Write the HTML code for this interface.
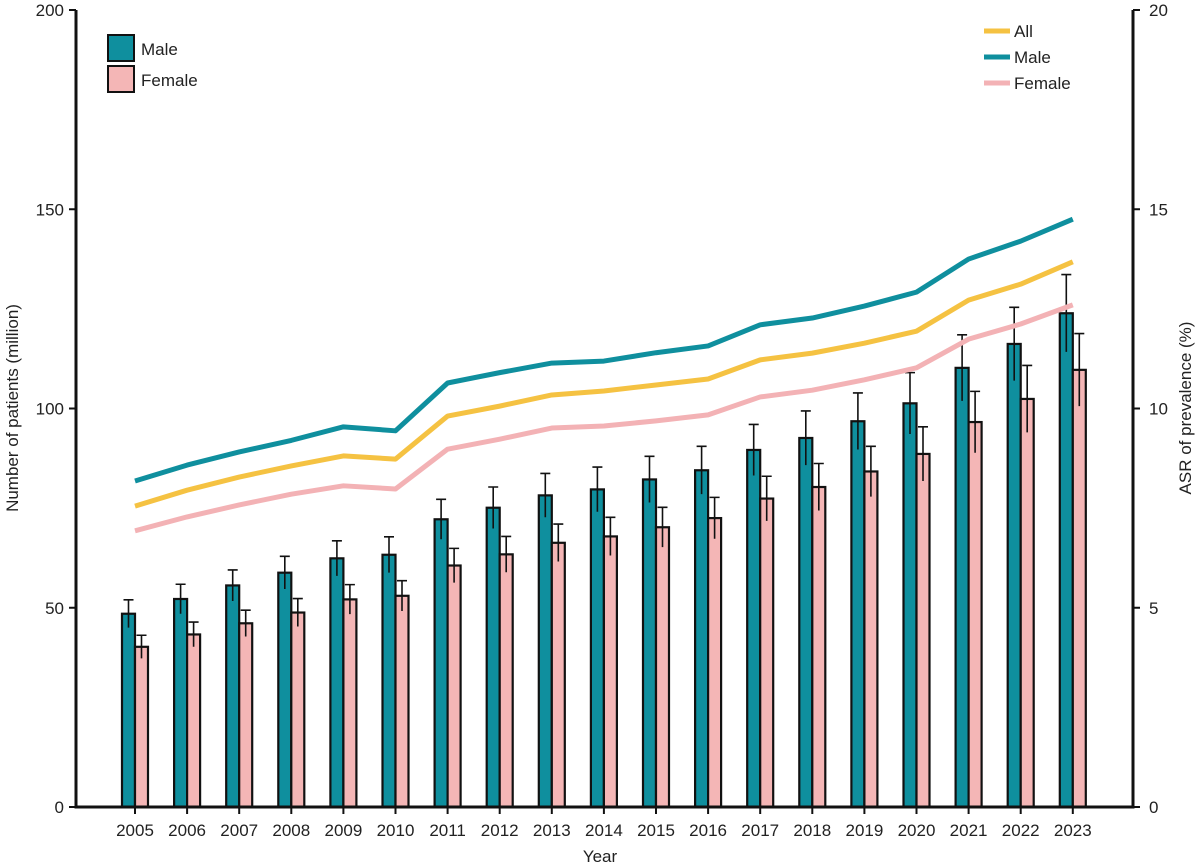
<!DOCTYPE html>
<html><head><meta charset="utf-8"><style>
body{margin:0;background:#fff}
svg{display:block;font-family:"Liberation Sans",sans-serif}
</style></head><body>
<svg id="c" width="1200" height="866" viewBox="0 0 1200 866"></svg>
<script>
const years=[2005,2006,2007,2008,2009,2010,2011,2012,2013,2014,2015,2016,2017,2018,2019,2020,2021,2022,2023];
const maleCount=[48.5,52.2,55.6,58.8,62.4,63.3,72.2,75.1,78.2,79.7,82.2,84.5,89.6,92.6,96.8,101.3,110.2,116.2,123.9];
const maleErr=[3.5,3.7,3.9,4.1,4.4,4.5,5.0,5.2,5.5,5.6,5.8,6.0,6.4,6.8,7.1,7.7,8.3,9.2,9.7];
const femaleCount=[40.2,43.3,46.1,48.8,52.1,53.0,60.6,63.4,66.3,67.9,70.2,72.5,77.4,80.3,84.2,88.6,96.6,102.4,109.7];
const femaleErr=[2.9,3.1,3.3,3.5,3.7,3.8,4.3,4.5,4.7,4.8,5.0,5.2,5.6,5.9,6.3,6.8,7.7,8.4,9.1];
const asrAll=[7.55,7.95,8.28,8.56,8.81,8.73,9.81,10.06,10.34,10.44,10.59,10.74,11.22,11.39,11.64,11.94,12.72,13.12,13.68];
const asrMale=[8.18,8.58,8.91,9.2,9.54,9.44,10.64,10.9,11.14,11.19,11.4,11.57,12.1,12.27,12.57,12.92,13.75,14.2,14.75];
const asrFemale=[6.93,7.28,7.58,7.85,8.06,7.98,8.98,9.23,9.51,9.56,9.69,9.84,10.29,10.46,10.72,11.02,11.74,12.12,12.6];
const leftTicks=[0,50,100,150,200];
const rightTicks=[0,5,10,15,20];

const svg=document.getElementById('c');
const NS='http://www.w3.org/2000/svg';
const X0=76,X1=1133,Y0=807,Y1=10;
const yL=v=>Y0-(v/200)*(Y0-Y1);
const yR=v=>Y0-(v/20)*(Y0-Y1);
const xC=i=>135+i*52.1;
function mk(tag,attrs,parent){const e=document.createElementNS(NS,tag);for(const k in attrs)e.setAttribute(k,attrs[k]);(parent||svg).appendChild(e);return e;}
const TEAL='#0f8f9e',PINK='#f4b6b6',GOLD='#f5c242',LPINK='#f3b2b5';

// bars
const gb=mk('g',{});


years.forEach((yr,i)=>{
  const c=xC(i),w=13;
  const series=[[maleCount[i],maleErr[i],c-w,TEAL,'male'],[femaleCount[i],femaleErr[i],c,PINK,'female']];
  series.forEach(([v,e,x,col,nm])=>{
    const r=mk('rect',{x:x,y:yL(v),width:w,height:Y0-yL(v),fill:col,stroke:'#111','stroke-width':2.2},gb);
    
    
    const m=x+w/2;
    const eb=mk('path',{d:`M${m},${yL(v-e)}V${yL(v+e)}M${m-5},${yL(v+e)}H${m+5}`,stroke:'#111','stroke-width':1.6,fill:'none'},gb);
    
    
  });
});

// lines
[[asrMale,TEAL,'line-asr-male'],[asrAll,GOLD,'line-asr-all'],[asrFemale,LPINK,'line-asr-female']].forEach(([arr,col,nm])=>{
  const p=mk('polyline',{points:arr.map((v,i)=>xC(i)+','+yR(v)).join(' '),fill:'none',stroke:col,'stroke-width':5,'stroke-linejoin':'round'});
  
  
});

// axes
const ax=mk('path',{d:`M${X0},${Y1}V${Y0}H${X1}V${Y1}`,stroke:'#111','stroke-width':3,fill:'none'});


leftTicks.forEach(t=>{
  mk('line',{x1:X0-7,x2:X0,y1:yL(t),y2:yL(t),stroke:'#111','stroke-width':2});
  const tx=mk('text',{x:X0-12,y:yL(t)+6,'text-anchor':'end','font-size':17,fill:'#222'});
  tx.textContent=t;
  
  
});
rightTicks.forEach(t=>{
  mk('line',{x1:X1,x2:X1+7,y1:yR(t),y2:yR(t),stroke:'#111','stroke-width':2});
  const tx=mk('text',{x:X1+16,y:yR(t)+6,'text-anchor':'start','font-size':17,fill:'#222'});
  tx.textContent=t;
  
  
});
years.forEach((yr,i)=>{
  mk('line',{x1:xC(i),x2:xC(i),y1:Y0,y2:Y0+7,stroke:'#111','stroke-width':2});
  const tx=mk('text',{x:xC(i),y:836,'text-anchor':'middle','font-size':17,fill:'#222'});
  tx.textContent=yr;
  
  
});
</script>
<svg width="0" height="0"></svg>
<div style="position:absolute;left:0;top:0;width:1200px;height:866px;pointer-events:none">
<svg width="1200" height="866" style="position:absolute;left:0;top:0;font-family:'Liberation Sans',sans-serif">
  <text x="600" y="862" text-anchor="middle" font-size="17" fill="#222">Year</text>
  <text transform="translate(18,408) rotate(-90)" text-anchor="middle" font-size="17" fill="#222">Number of patients (million)</text>
  <text transform="translate(1191,408) rotate(-90)" text-anchor="middle" font-size="17" fill="#222">ASR of prevalence (%)</text>
  <g>
    <rect x="108" y="35" width="26" height="26" fill="#0f8f9e" stroke="#111" stroke-width="2"/>
    <text x="141" y="55" font-size="17" fill="#222">Male</text>
    <rect x="108" y="66" width="26" height="26" fill="#f4b6b6" stroke="#111" stroke-width="2"/>
    <text x="141" y="86" font-size="17" fill="#222">Female</text>
  </g>
  <g>
    <line x1="984" x2="1010" y1="31" y2="31" stroke="#f5c242" stroke-width="5"/>
    <text x="1014" y="37" font-size="17" fill="#222">All</text>
    <line x1="984" x2="1010" y1="57" y2="57" stroke="#0f8f9e" stroke-width="5"/>
    <text x="1014" y="63" font-size="17" fill="#222">Male</text>
    <line x1="984" x2="1010" y1="83" y2="83" stroke="#f3b2b5" stroke-width="5"/>
    <text x="1014" y="89" font-size="17" fill="#222">Female</text>
  </g>
</svg>
</div>
</body></html>
